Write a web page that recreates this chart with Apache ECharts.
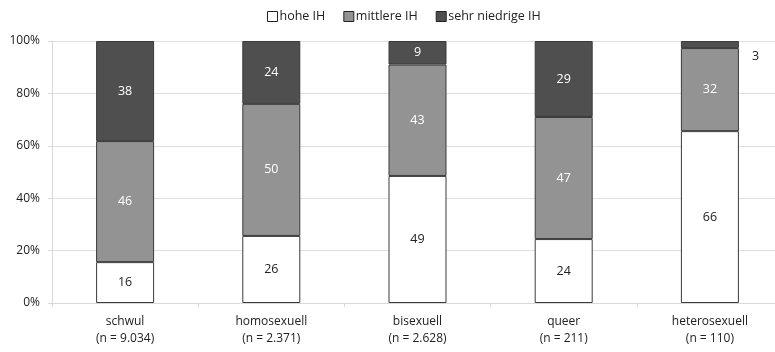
<!DOCTYPE html>
<html><head><meta charset="utf-8">
<script src="https://cdn.jsdelivr.net/npm/echarts@6/dist/echarts.min.js"></script>
<style>html,body{margin:0;padding:0;background:#fff}#c{width:775px;height:352px}</style>
</head><body><div id="c"></div>
<script>
const categories = ['schwul\n(n = 9.034)', 'homosexuell\n(n = 2.371)', 'bisexuell\n(n = 2.628)', 'queer\n(n = 211)', 'heterosexuell\n(n = 110)'];
const seriesNames = ['hohe IH', 'mittlere IH', 'sehr niedrige IH'];
const hoheIH = [15.6, 25.6, 48.5, 24.4, 65.6];
const mittlereIH = [46.2, 50.4, 42.5, 46.6, 31.7];
const niedrigeIH = [38.2, 24.0, 9.0, 29.0, 2.7];
const yTicks = [0, 20, 40, 60, 80, 100];

const font = "'Open Sans', 'Liberation Sans', sans-serif";
const colors = ['#ffffff', '#939393', '#4f4f4f'];
const labelColors = ['#222', '#fff', '#fff'];
const datasets = [hoheIH, mittlereIH, niedrigeIH];

const series = datasets.map((d, i) => ({
  name: seriesNames[i],
  type: 'bar',
  stack: 'a',
  barWidth: 58,
  data: d.map((v, j) => {
    const item = { value: v };
    if (i === 2 && j === 4) {
      item.label = { position: 'right', distance: 13, offset: [0, 12], color: '#222' };
    }
    return item;
  }),
  itemStyle: { color: colors[i], borderColor: '#3a3a3a', borderWidth: 1 },
  label: {
    show: true, position: 'inside', color: labelColors[i],
    fontFamily: font, fontSize: 12.5,
    formatter: p => Math.round(p.value)
  }
}));

const chart = echarts.init(document.getElementById('c'), null, { renderer: 'canvas' });
chart.setOption({
  animation: false,
  textStyle: { fontFamily: font },
  legend: {
    top: 5, left: 262,
    itemWidth: 10, itemHeight: 10, itemGap: 18,
    icon: 'rect',
    textStyle: { fontFamily: font, fontSize: 12.5, color: '#222', padding: [0, 0, 0, -3] },
    data: seriesNames.map((n, i) => ({ name: n, itemStyle: { color: colors[i], borderColor: '#222', borderWidth: 1 } }))
  },
  grid: { left: 52, top: 41, bottom: 49, width: 731, containLabel: false, outerBoundsMode: 'none' },
  xAxis: {
    type: 'category', data: categories,
    axisLine: { lineStyle: { color: '#d9d9d9', width: 1 } },
    axisTick: { show: true, length: 4, lineStyle: { color: '#d9d9d9' } },
    axisLabel: { color: '#222', fontFamily: font, fontSize: 12, lineHeight: 17, margin: 10 }
  },
  yAxis: {
    type: 'value', min: 0, max: 100, interval: 20,
    axisLine: { show: true, lineStyle: { color: '#d9d9d9' } },
    axisTick: { show: true, length: 4, lineStyle: { color: '#d9d9d9' } },
    splitLine: { lineStyle: { color: '#e0e0e0', width: 1 } },
    axisLabel: { color: '#222', fontFamily: font, fontSize: 12, margin: 12,
      formatter: v => yTicks.includes(v) ? v + '%' : '' }
  },
  series
});
</script></body></html>
